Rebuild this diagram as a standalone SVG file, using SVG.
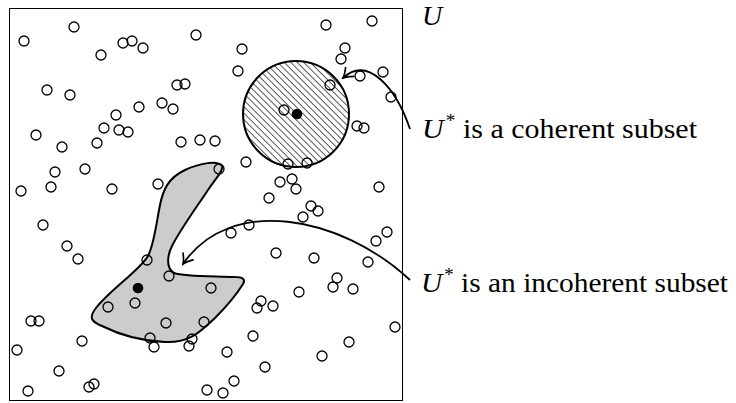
<svg xmlns="http://www.w3.org/2000/svg" width="736" height="403" viewBox="0 0 736 403">
<style>
.pt{fill:none;stroke:#000;stroke-width:1.3}
.lbl{font-family:"Liberation Serif","Times New Roman",serif;font-size:28px;fill:#000}
.it{font-style:italic}
.arr{fill:none;stroke:#000;stroke-width:1.8;marker-end:url(#ah)}
</style>
<defs>
<pattern id="hatch" patternUnits="userSpaceOnUse" width="4.6" height="4.6" patternTransform="rotate(-45)">
<line x1="0" y1="-1" x2="0" y2="6" stroke="#000" stroke-width="1.3"/>
</pattern>
<marker id="ah" viewBox="-11 -7 13 14" markerWidth="13" markerHeight="14" refX="0" refY="0" orient="auto" markerUnits="userSpaceOnUse">
<path d="M -9,-6 Q -3.5,-1.2 0,0 Q -3.5,1.2 -9,6" fill="none" stroke="#000" stroke-width="1.7" stroke-linecap="round"/>
</marker>
</defs>
<rect width="736" height="403" fill="#fff"/>
<g id="universe">
<rect x="9.5" y="8.5" width="393" height="392" fill="none" stroke="#000" stroke-width="1"/>
<text class="lbl it" x="422" y="25">U</text>
</g>
<g id="incoherent-subset">
<path d="M 222,166 C 218,160 200,163 185,170 C 168,178 163,190 160,205 C 156,225 154,245 148,256 C 140,270 110,290 96,308 C 88,318 92,322 102,326 C 118,334 140,341 165,342 C 190,343 200,332 215,318 C 228,305 238,292 243,284 C 246,279 242,277 235,277 C 215,276 185,277 174,273 C 166,268 167,256 172,246 C 180,230 196,208 208,190 C 216,178 224,170 222,166 Z" fill="#cccccc" stroke="#000" stroke-width="2"/>
<circle cx="138" cy="288" r="5.3" fill="#000"/>
</g>
<g id="coherent-subset">
<circle cx="296" cy="114" r="53" fill="url(#hatch)" stroke="#000" stroke-width="2"/>
<circle cx="297" cy="114" r="5.3" fill="#000"/>
</g>
<g id="points">
<circle class="pt" cx="24" cy="41" r="5"/>
<circle class="pt" cx="74" cy="27" r="5"/>
<circle class="pt" cx="123" cy="43" r="5"/>
<circle class="pt" cx="132" cy="41" r="5"/>
<circle class="pt" cx="143" cy="48" r="5"/>
<circle class="pt" cx="101" cy="55" r="5"/>
<circle class="pt" cx="196" cy="35" r="5"/>
<circle class="pt" cx="242" cy="49" r="5"/>
<circle class="pt" cx="326" cy="25" r="5"/>
<circle class="pt" cx="372" cy="21" r="5"/>
<circle class="pt" cx="345" cy="48" r="5"/>
<circle class="pt" cx="341" cy="59" r="5"/>
<circle class="pt" cx="238" cy="71" r="5"/>
<circle class="pt" cx="383" cy="72" r="5"/>
<circle class="pt" cx="360" cy="76" r="5"/>
<circle class="pt" cx="391" cy="97" r="5"/>
<circle class="pt" cx="330" cy="85" r="5"/>
<circle class="pt" cx="284" cy="110" r="5"/>
<circle class="pt" cx="357" cy="126" r="5"/>
<circle class="pt" cx="364" cy="128" r="5"/>
<circle class="pt" cx="47" cy="90" r="5"/>
<circle class="pt" cx="70" cy="95" r="5"/>
<circle class="pt" cx="177" cy="85" r="5"/>
<circle class="pt" cx="185" cy="84" r="5"/>
<circle class="pt" cx="139" cy="107" r="5"/>
<circle class="pt" cx="162" cy="103" r="5"/>
<circle class="pt" cx="173" cy="109" r="5"/>
<circle class="pt" cx="116" cy="115" r="5"/>
<circle class="pt" cx="104" cy="128" r="5"/>
<circle class="pt" cx="119" cy="130" r="5"/>
<circle class="pt" cx="128" cy="132" r="5"/>
<circle class="pt" cx="36" cy="135" r="5"/>
<circle class="pt" cx="97" cy="143" r="5"/>
<circle class="pt" cx="62" cy="147" r="5"/>
<circle class="pt" cx="181" cy="142" r="5"/>
<circle class="pt" cx="200" cy="140" r="5"/>
<circle class="pt" cx="215" cy="141" r="5"/>
<circle class="pt" cx="55" cy="172" r="5"/>
<circle class="pt" cx="85" cy="169" r="5"/>
<circle class="pt" cx="51" cy="187" r="5"/>
<circle class="pt" cx="21" cy="191" r="5"/>
<circle class="pt" cx="112" cy="189" r="5"/>
<circle class="pt" cx="158" cy="184" r="5"/>
<circle class="pt" cx="219" cy="169" r="5"/>
<circle class="pt" cx="246" cy="162" r="5"/>
<circle class="pt" cx="288" cy="164" r="5"/>
<circle class="pt" cx="307" cy="163" r="5"/>
<circle class="pt" cx="280" cy="182" r="5"/>
<circle class="pt" cx="292" cy="179" r="5"/>
<circle class="pt" cx="296" cy="189" r="5"/>
<circle class="pt" cx="269" cy="198" r="5"/>
<circle class="pt" cx="379" cy="187" r="5"/>
<circle class="pt" cx="311" cy="206" r="5"/>
<circle class="pt" cx="318" cy="211" r="5"/>
<circle class="pt" cx="303" cy="217" r="5"/>
<circle class="pt" cx="43" cy="225" r="5"/>
<circle class="pt" cx="67" cy="246" r="5"/>
<circle class="pt" cx="78" cy="259" r="5"/>
<circle class="pt" cx="147" cy="260" r="5"/>
<circle class="pt" cx="249" cy="225" r="5"/>
<circle class="pt" cx="231" cy="233" r="5"/>
<circle class="pt" cx="387" cy="232" r="5"/>
<circle class="pt" cx="376" cy="241" r="5"/>
<circle class="pt" cx="276" cy="253" r="5"/>
<circle class="pt" cx="314" cy="258" r="5"/>
<circle class="pt" cx="368" cy="262" r="5"/>
<circle class="pt" cx="169" cy="276" r="5"/>
<circle class="pt" cx="135" cy="303" r="5"/>
<circle class="pt" cx="108" cy="307" r="5"/>
<circle class="pt" cx="166" cy="323" r="5"/>
<circle class="pt" cx="204" cy="322" r="5"/>
<circle class="pt" cx="211" cy="288" r="5"/>
<circle class="pt" cx="31" cy="321" r="5"/>
<circle class="pt" cx="39" cy="321" r="5"/>
<circle class="pt" cx="82" cy="341" r="5"/>
<circle class="pt" cx="17" cy="350" r="5"/>
<circle class="pt" cx="150" cy="338" r="5"/>
<circle class="pt" cx="154" cy="347" r="5"/>
<circle class="pt" cx="192" cy="339" r="5"/>
<circle class="pt" cx="189" cy="346" r="5"/>
<circle class="pt" cx="59" cy="371" r="5"/>
<circle class="pt" cx="89" cy="387" r="5"/>
<circle class="pt" cx="94" cy="384" r="5"/>
<circle class="pt" cx="28" cy="391" r="5"/>
<circle class="pt" cx="207" cy="390" r="5"/>
<circle class="pt" cx="223" cy="393" r="5"/>
<circle class="pt" cx="234" cy="381" r="5"/>
<circle class="pt" cx="265" cy="367" r="5"/>
<circle class="pt" cx="227" cy="352" r="5"/>
<circle class="pt" cx="253" cy="336" r="5"/>
<circle class="pt" cx="261" cy="301" r="5"/>
<circle class="pt" cx="257" cy="308" r="5"/>
<circle class="pt" cx="273" cy="306" r="5"/>
<circle class="pt" cx="299" cy="292" r="5"/>
<circle class="pt" cx="337" cy="278" r="5"/>
<circle class="pt" cx="333" cy="287" r="5"/>
<circle class="pt" cx="353" cy="289" r="5"/>
<circle class="pt" cx="395" cy="327" r="5"/>
<circle class="pt" cx="349" cy="342" r="5"/>
<circle class="pt" cx="322" cy="356" r="5"/>
</g>
<g id="label-coherent">
<text class="lbl" x="422" y="138" textLength="275" lengthAdjust="spacingAndGlyphs"><tspan class="it">U</tspan><tspan font-size="18" dx="2" dy="-11">*</tspan><tspan dy="11"> is a coherent subset</tspan></text>
</g>
<g id="label-incoherent">
<text class="lbl" x="421" y="292" textLength="307" lengthAdjust="spacingAndGlyphs"><tspan class="it">U</tspan><tspan font-size="18" dx="2" dy="-11">*</tspan><tspan dy="11"> is an incoherent subset</tspan></text>
</g>
<g id="connectors">
<path class="arr" d="M 410,129 C 396,88 368,55 343,78"/>
<path class="arr" d="M 410,280 C 340,215 230,195 183,264"/>
</g>
</svg>
